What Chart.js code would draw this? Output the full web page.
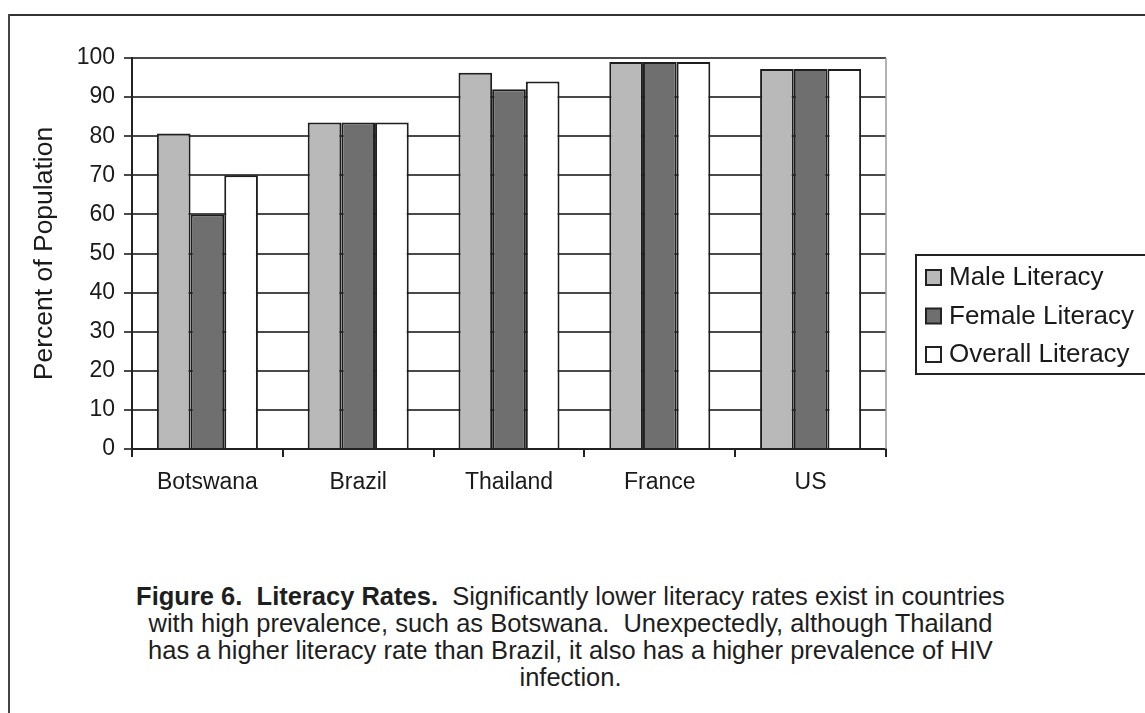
<!DOCTYPE html>
<html>
<head>
<meta charset="utf-8">
<script src="https://cdn.jsdelivr.net/npm/chart.js@4.4.1/dist/chart.umd.min.js"></script>
<style>
  html, body { margin: 0; padding: 0; background: #fff; }
  body { width: 1145px; height: 713px; position: relative; overflow: hidden; font-family: "Liberation Sans", Arial, sans-serif; }
  .frame-top { position: absolute; left: 8px; top: 14px; width: 1137px; height: 2px; background: #333; }
  .frame-left { position: absolute; left: 8px; top: 14px; width: 2px; height: 699px; background: #444; }
  #wrap { position: absolute; left: 0; top: 0; width: 1145px; height: 530px; }
  .caption { position: absolute; left: -2px; top: 583px; width: 1145px; text-align: center; font-size: 25.5px; line-height: 27px; color: #1e1e1e; }
  .caption b { font-weight: bold; }
</style>
</head>
<body>
<div class="frame-top"></div>
<div class="frame-left"></div>
<div id="wrap"><canvas id="chart" width="1145" height="530"></canvas></div>
<div class="caption">
  <b>Figure 6.&nbsp; Literacy Rates.</b>&nbsp; Significantly lower literacy rates exist in countries<br>
  with high prevalence, such as Botswana.&nbsp; Unexpectedly, although Thailand<br>
  has a higher literacy rate than Brazil, it also has a higher prevalence of HIV<br>
  infection.
</div>
<script>
// Countries and literacy rates (percent of population)
const countries = ["Botswana", "Brazil", "Thailand", "France", "US"];
const maleLiteracy = [80.7, 83.5, 96.2, 99.0, 97.2];
const femaleLiteracy = [60.0, 83.5, 92.0, 99.0, 97.2];
const overallLiteracy = [70.0, 83.5, 94.0, 99.0, 97.2];
const seriesNames = ["Male Literacy", "Female Literacy", "Overall Literacy"];
const yTicks = [0, 10, 20, 30, 40, 50, 60, 70, 80, 90, 100];

const FONT = '"Liberation Sans", Arial, sans-serif';
const fills = ["#b9b9b9", "#6f6f6f", "#ffffff"];

// Legend box drawn on the canvas next to the plot, from the dataset labels/colors
const boxedLegend = {
  id: 'boxedLegend',
  afterDraw(chart) {
    const ctx = chart.ctx;
    const x0 = 916, y0 = 255, w = 232, h = 119;
    ctx.save();
    ctx.strokeStyle = '#222';
    ctx.lineWidth = 2;
    ctx.strokeRect(x0, y0, w, h);
    ctx.font = '26px ' + FONT;
    ctx.textBaseline = 'middle';
    chart.data.datasets.forEach((ds, i) => {
      const cy = 277 + i * 38.5;
      ctx.fillStyle = ds.backgroundColor;
      ctx.fillRect(926, cy - 7, 15, 15);
      ctx.strokeStyle = '#222';
      ctx.lineWidth = 2;
      ctx.strokeRect(926, cy - 7, 15, 15);
      ctx.fillStyle = '#1a1a1a';
      ctx.fillText(ds.label, 949, cy + 1);
    });
    ctx.restore();
  }
};

// Light border on the right side of the plot area
const plotEdge = {
  id: 'plotEdge',
  beforeDatasetsDraw(chart) {
    const {ctx, chartArea} = chart;
    ctx.save();
    ctx.strokeStyle = '#9a9a9a';
    ctx.lineWidth = 1.5;
    ctx.beginPath();
    ctx.moveTo(chartArea.right, chartArea.top);
    ctx.lineTo(chartArea.right, chartArea.bottom);
    ctx.stroke();
    ctx.restore();
  }
};

const values = [maleLiteracy, femaleLiteracy, overallLiteracy];
new Chart(document.getElementById('chart'), {
  type: 'bar',
  data: {
    labels: countries,
    datasets: seriesNames.map((name, i) => ({
      label: name,
      data: values[i],
      backgroundColor: fills[i],
      borderColor: '#1e1e1e',
      borderWidth: 2,
      categoryPercentage: 0.67,
      barPercentage: 1.0
    }))
  },
  options: {
    responsive: false,
    animation: false,
    events: [],
    layout: { padding: { top: 58, right: 259, bottom: 0, left: 0 } },
    plugins: { legend: { display: false }, tooltip: { enabled: false } },
    scales: {
      x: {
        offset: true,
        grid: { offset: true, drawOnChartArea: false, drawTicks: true, tickLength: 8, color: '#222', lineWidth: 2 },
        border: { color: '#222', width: 2 },
        ticks: { color: '#1a1a1a', font: { family: FONT, size: 23 }, padding: 12, maxRotation: 0 },
        afterFit(scale) { scale.height = 81; }
      },
      y: {
        min: 0,
        max: 100,
        afterBuildTicks(scale) { scale.ticks = yTicks.map(v => ({ value: v })); },
        grid: { color: '#4a4a4a', lineWidth: 2, tickLength: 8, drawTicks: true },
        border: { color: '#222', width: 2 },
        ticks: { color: '#1a1a1a', font: { family: FONT, size: 23 }, padding: 9 },
        title: { display: true, text: 'Percent of Population', color: '#1a1a1a', font: { family: FONT, size: 26.5 }, padding: { top: 29, bottom: 0 } },
        afterFit(scale) { scale.width = 132; }
      }
    }
  },
  plugins: [plotEdge, boxedLegend]
});
</script>
</body>
</html>
